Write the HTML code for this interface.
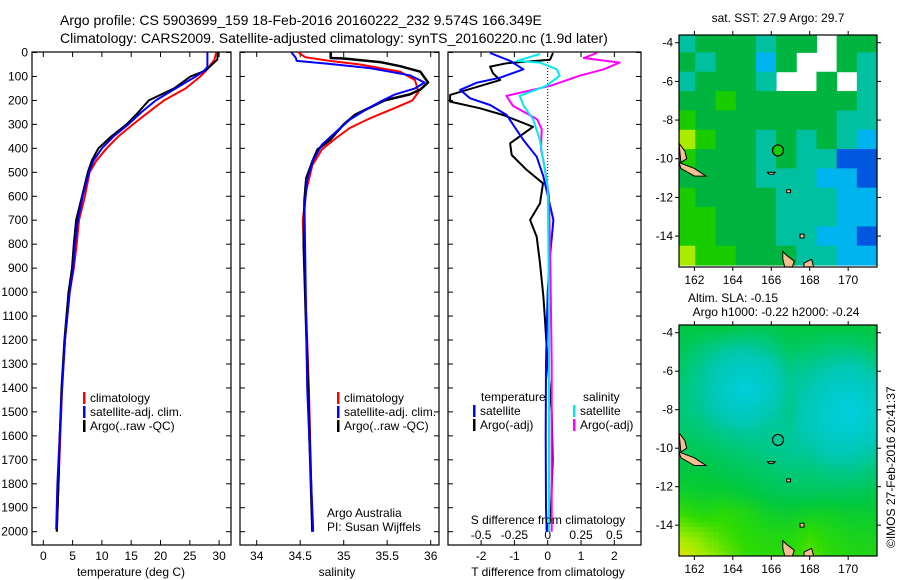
<!DOCTYPE html>
<html><head><meta charset="utf-8"><style>
body{margin:0;background:#fff;}
svg{display:block;font-family:"Liberation Sans",sans-serif;}
</style></head><body>
<svg id="fig" width="900" height="580" viewBox="0 0 900 580" xmlns="http://www.w3.org/2000/svg">
<text x="60" y="25" font-size="14">Argo profile: CS 5903699_159 18-Feb-2016 20160222_232 9.574S 166.349E</text>
<text x="60" y="43" font-size="14">Climatology: CARS2009. Satellite-adjusted climatology: synTS_20160220.nc (1.9d later)</text>
<g id="g1"></g>
<g id="g2"></g>
<g id="g3"></g>
<g id="m1"></g>
<g id="m2"></g>
<text x="778" y="22" font-size="12" text-anchor="middle">sat. SST: 27.9 Argo: 29.7</text>
<text x="733" y="302" font-size="12" text-anchor="middle">Altim. SLA: -0.15</text>
<text x="776" y="316" font-size="12" text-anchor="middle">Argo h1000: -0.22 h2000: -0.24</text>
<text transform="translate(895,548) rotate(-90)" font-size="12">©IMOS 27-Feb-2016 20:41:37</text>
</svg>
<script>
// ---------- data ----------
const depthsT = [0,30,75,100,150,200,250,300,350,400,450,500,600,700,800,900,1000,1200,1400,1600,1800,2000];
const tempArgo = [29.8,29.7,27.7,25.1,22.3,18.0,16.2,14.2,11.6,9.4,8.3,7.6,6.6,5.6,5.2,4.9,4.3,3.6,3.1,2.8,2.6,2.3];
const tempClim = [29.5,29.2,27.8,26.8,24.3,20.6,17.9,15.3,12.8,10.8,9.1,7.9,7.1,6.1,5.7,5.2,4.5,3.7,3.2,2.9,2.6,2.3];
const depthsTsat = [0,60,75,100,150,200,250,300,350,400,450,500,600,700,800,900,1000,1200,1400,1600,1800,1990];
const tempSat = [28.0,28.0,27.5,26.0,22.6,19.2,16.7,14.5,12.0,10.0,8.6,7.8,6.7,5.9,5.4,5.1,4.5,3.7,3.2,2.8,2.4,2.2];

const depthsSA = [0,23,25,40,57,80,125,155,175,200,230,260,300,365,405,455,525,615,800,1400,2000];
const salArgo = [34.85,34.85,35.0,35.42,35.65,35.88,35.97,35.88,35.76,35.47,35.3,35.13,35.0,34.84,34.7,34.64,34.57,34.55,34.54,34.59,34.64];
const depthsSC = [0,20,35,50,80,115,165,200,230,275,315,360,405,470,575,700,1400,2000];
const salClim = [34.48,34.56,34.84,35.19,35.65,35.82,35.86,35.79,35.6,35.3,35.07,34.9,34.75,34.64,34.57,34.53,34.6,34.64];
const depthsSS = [0,23,35,48,65,95,125,150,175,205,240,280,335,385,450,530,650,1400,2000];
const salSat = [34.4,34.45,34.46,34.85,35.3,35.76,35.93,35.82,35.59,35.42,35.25,35.07,34.9,34.75,34.65,34.58,34.55,34.58,34.65];

const depthsDT = [2,30,45,59,87,115,156,177,205,233,261,310,379,428,490,546,630,699,769,880,1019,1116,1300,1500,1700,1900,2000];
const dTargo = [0.16,0.07,-1.24,-1.73,-1.64,-1.43,-2.43,-2.93,-2.93,-2.03,-1.34,-0.44,-1.13,-1.08,-0.63,-0.14,-0.23,-0.53,-0.33,-0.23,-0.13,-0.08,0.0,0.12,0.15,0.1,0.0];
const depthsDTs = [2,35,70,105,126,156,191,219,261,324,365,435,518,699,850,1000,1300,1600,1900,2000];
const dTsat = [-1.73,-1.13,-0.73,-1.43,-2.13,-2.63,-2.33,-1.73,-1.23,-0.93,-0.73,-0.33,-0.13,0.17,0.07,0.0,-0.05,-0.06,-0.05,-0.03];
const depthsDS = [6,35,42,70,97,139,181,223,278,362,459,560,800,1200,1600,2000];
const dSsat = [-0.058,-0.23,-0.058,0.068,0.09,-0.01,-0.21,-0.18,-0.11,-0.06,-0.03,0.0,0.005,0.01,0.01,0.01];
const depthsDSa = [2,23,42,70,97,139,181,223,278,320,403,487,600,900,1300,1700,2000];
const dSargo = [0.37,0.27,0.54,0.42,0.24,0.02,-0.31,-0.26,-0.08,-0.045,-0.05,-0.02,0.01,0.02,0.03,0.03,0.03];

const depthTicks = [0,100,200,300,400,500,600,700,800,900,1000,1100,1200,1300,1400,1500,1600,1700,1800,1900,2000];
const tempTicks = [0,5,10,15,20,25,30];
const salTicks = [34,34.5,35,35.5,36];
const salTickLabels = ["34","34.5","35","35.5","36"];
const dTTicks = [-2,-1,0,1,2];
const dSTicks = [-0.5,-0.25,0,0.25,0.5];
const dSTickLabels = ["-0.5","-0.25","0","0.25","0.5"];

// maps: rows lat -4..-15, cols lon 161.5..170.5 (null = no data)
const sstGrid = [
[3,4,4,4,3,4,4,null,4,4],
[4,3,4,4,2,4,null,null,4,3],
[3,4,4,4,3,null,null,4,null,3],
[4,4,5,4,4,4,4,4,4,3],
[5,4,4,4,4,4,4,4,3,3],
[6,5,4,4,3,4,3,4,3,2],
[5,4,4,4,3,4,3,3,1,1],
[4,4,4,4,3,3,3,2,2,1],
[5,4,4,4,4,3,3,3,2,2],
[5,5,4,4,4,3,3,3,2,2],
[5,5,4,4,4,3,3,2,2,1],
[6,5,5,4,4,4,3,3,2,2]];
const slaGrid = [
[.45,.45,.45,.42,.42,.45,.45,.45,.45,.45],
[.42,.35,.3,.28,.32,.4,.38,.35,.35,.4],
[.38,.3,.2,.15,.2,.32,.3,.25,.22,.3],
[.35,.28,.15,.05,.15,.3,.25,.15,.12,.2],
[.35,.3,.2,.15,.22,.32,.2,.1,.05,.15],
[.38,.35,.3,.28,.3,.3,.22,.12,.1,.18],
[.42,.4,.38,.35,.32,.3,.28,.22,.22,.28],
[.45,.45,.42,.4,.38,.35,.35,.32,.32,.35],
[.5,.48,.48,.45,.42,.4,.4,.4,.4,.42],
[.6,.55,.58,.55,.5,.48,.5,.5,.48,.48],
[.72,.68,.62,.58,.55,.55,.6,.55,.52,.52],
[.85,.75,.68,.6,.58,.58,.65,.58,.55,.55]];
const lonTicks = [162,164,166,168,170];
const latTicks = [-4,-6,-8,-10,-12,-14];
const argoLon = 166.35, argoLat = -9.57;

// ---------- helpers ----------
const NS="http://www.w3.org/2000/svg";
function mk(parent,tag,attrs){const e=document.createElementNS(NS,tag);for(const k in attrs)e.setAttribute(k,attrs[k]);parent.appendChild(e);return e;}
const yD = d => 52.5 + 0.2396*d;
const xT = t => 43.3 + t*5.86;
const xS = s => 256.7 + (s-34)*87;
const xDT = t => 547.7 + t*33.3;
const xDS = s => 547.7 + s*133.3;
const TOP=52, BOT=545;

function path(g,xs,ds,fx,color,name,w){
  let d="";
  for(let i=0;i<xs.length;i++){d+=(i?"L":"M")+fx(xs[i]).toFixed(1)+" "+yD(ds[i]).toFixed(1);}
  const p=mk(g,"path",{d:d,fill:"none",stroke:color,"stroke-width":w||2,"stroke-linejoin":"round"});
  
  
}
function frame(g,x0,x1,name){
  const r=mk(g,"rect",{x:x0,y:TOP,width:x1-x0,height:BOT-TOP,fill:"none",stroke:"#000","stroke-width":1.2});
  
  
  depthTicks.forEach(d=>{mk(g,"line",{x1:x0,x2:x0+5,y1:yD(d),y2:yD(d),stroke:"#000"});mk(g,"line",{x1:x1,x2:x1-5,y1:yD(d),y2:yD(d),stroke:"#000"});});
}
function txt(g,x,y,s,name,anchor,size){
  const t=mk(g,"text",{x:x,y:y,"font-size":size||12,"text-anchor":anchor||"start"});
  t.textContent=s;
  
  
  return t;
}
function legend(g,x,y,color,label,name){
  mk(g,"rect",{x:x,y:y-10,width:2.5,height:12,fill:color});
  txt(g,x+7,y,label,name);
}

// ---------- panel 1: temperature ----------
const g1=document.getElementById("g1");
frame(g1,32,231,"temperature-axes");
depthTicks.forEach(d=>txt(g1,28,yD(d)+4,String(d),"depth-tick-label","end"));
tempTicks.forEach(t=>{mk(g1,"line",{x1:xT(t),x2:xT(t),y1:BOT,y2:BOT-5,stroke:"#000"});mk(g1,"line",{x1:xT(t),x2:xT(t),y1:TOP,y2:TOP+5,stroke:"#000"});txt(g1,xT(t),560,String(t),"temperature-tick-label","middle");});
txt(g1,131,576,"temperature (deg C)","temperature-axis-title","middle");
path(g1,tempClim,depthsT,xT,"#ff0000","temperature-climatology-line");
path(g1,tempArgo,depthsT,xT,"#000000","temperature-argo-line");
path(g1,tempSat,depthsTsat,xT,"#0000ff","temperature-satellite-line");
legend(g1,83,402,"#ff0000","climatology","legend-climatology");
legend(g1,83,416,"#0000ff","satellite-adj. clim.","legend-satellite");
legend(g1,83,430,"#000000","Argo(..raw -QC)","legend-argo");

// ---------- panel 2: salinity ----------
const g2=document.getElementById("g2");
frame(g2,240,439,"salinity-axes");
salTicks.forEach((s,i)=>{mk(g2,"line",{x1:xS(s),x2:xS(s),y1:BOT,y2:BOT-5,stroke:"#000"});mk(g2,"line",{x1:xS(s),x2:xS(s),y1:TOP,y2:TOP+5,stroke:"#000"});txt(g2,xS(s),560,salTickLabels[i],"salinity-tick-label","middle");});
txt(g2,337,576,"salinity","salinity-axis-title","middle");
path(g2,salClim,depthsSC,xS,"#ff0000","salinity-climatology-line");
path(g2,salArgo,depthsSA,xS,"#000000","salinity-argo-line",2.5);
path(g2,salSat,depthsSS,xS,"#0000ff","salinity-satellite-line");
legend(g2,337,402,"#ff0000","climatology","legend-climatology");
legend(g2,337,416,"#0000ff","satellite-adj. clim.","legend-satellite");
legend(g2,337,430,"#000000","Argo(..raw -QC)","legend-argo");
txt(g2,327,517,"Argo Australia","credit-argo-australia");
txt(g2,327,531,"PI: Susan Wijffels","credit-pi");

// ---------- panel 3: differences ----------
const g3=document.getElementById("g3");
frame(g3,448,641,"difference-axes");
dTTicks.forEach(t=>{mk(g3,"line",{x1:xDT(t),x2:xDT(t),y1:BOT,y2:BOT-5,stroke:"#000"});txt(g3,xDT(t),560,String(t),"t-diff-tick-label","middle");});
dSTicks.forEach((s,i)=>{mk(g3,"line",{x1:xDS(s),x2:xDS(s),y1:TOP,y2:TOP+5,stroke:"#000"});txt(g3,xDS(s),539,dSTickLabels[i],"s-diff-tick-label","middle");});
mk(g3,"line",{x1:547.7,x2:547.7,y1:56,y2:180,stroke:"#000","stroke-dasharray":"1,2"});
path(g3,dTargo,depthsDT,xDT,"#000000","t-diff-argo-line");
path(g3,dTsat,depthsDTs,xDT,"#0000ff","t-diff-satellite-line");
path(g3,dSargo,depthsDSa,xDS,"#ff00ff","s-diff-argo-line");
path(g3,dSsat,depthsDS,xDS,"#00e8f0","s-diff-satellite-line");
txt(g3,481,401,"temperature","legend-temperature-header");
txt(g3,583,401,"salinity","legend-salinity-header");
legend(g3,473,415,"#0000ff","satellite","legend-t-satellite");
legend(g3,473,429,"#000000","Argo(-adj)","legend-t-argo");
legend(g3,573,415,"#00e8f0","satellite","legend-s-satellite");
legend(g3,573,429,"#ff00ff","Argo(-adj)","legend-s-argo");
txt(g3,548,524,"S difference from climatology","s-diff-axis-title","middle");
txt(g3,548,576,"T difference from climatology","t-diff-axis-title","middle");

// ---------- maps ----------
const sstColors=["#001c98","#0058e0","#00b4f0","#00c0a0","#00b440","#18cc00","#a8ec00","#f0d800"];
const slaStops=[[0,[0,208,232]],[0.25,[0,200,176]],[0.45,[0,200,64]],[0.6,[48,220,0]],[0.75,[160,236,0]],[0.9,[240,224,0]]];
function slaColor(v){
  for(let i=0;i<slaStops.length-1;i++){const a=slaStops[i],b=slaStops[i+1];
    if(v<=b[0]||i===slaStops.length-2){const f=Math.max(0,Math.min(1,(v-a[0])/(b[0]-a[0])));
      return "rgb("+a[1].map((c,k)=>Math.round(c+(b[1][k]-c)*f)).join(",")+")";}}
}
function drawMap(g,y0,y1,kind){
  const X0=679,X1=877;
  const lonA=161.2,lonB=171.5,latA=-3.6,latB=-15.6;
  const xL=l=>X0+(l-lonA)/(lonB-lonA)*(X1-X0);
  const yL=l=>y0+(l-latA)/(latB-latA)*(y1-y0);
  const clip="clip"+kind;
  const cp=mk(mk(g,"defs",{}),"clipPath",{id:clip});mk(cp,"rect",{x:X0,y:y0,width:X1-X0,height:y1-y0});
  const cg=mk(g,"g",{"clip-path":"url(#"+clip+")"});
  mk(cg,"rect",{x:X0,y:y0,width:X1-X0,height:y1-y0,fill:"#fff"});
  if(kind==="sst"){
    sstGrid.forEach((row,r)=>row.forEach((v,c)=>{
      if(v===null)return;
      const lon=161+c*1.05, lat=-3.5-r;
      const cell=mk(cg,"rect",{x:xL(lon),y:yL(lat),width:(X1-X0)/9.8+0.5,height:(y1-y0)/12+0.5,fill:sstColors[v]});
      
      
    }));
  } else {
    const nx=40,ny=48;
    for(let j=0;j<ny;j++)for(let i=0;i<nx;i++){
      const fr=j/(ny-1)*(slaGrid.length-1), fc=i/(nx-1)*(slaGrid[0].length-1);
      const r0=Math.floor(fr),c0=Math.floor(fc),r1=Math.min(r0+1,slaGrid.length-1),c1=Math.min(c0+1,slaGrid[0].length-1);
      const a=fr-r0,b=fc-c0;
      const v=slaGrid[r0][c0]*(1-a)*(1-b)+slaGrid[r0][c1]*(1-a)*b+slaGrid[r1][c0]*a*(1-b)+slaGrid[r1][c1]*a*b;
      const cell=mk(cg,"rect",{x:X0+i*(X1-X0)/nx,y:y0+j*(y1-y0)/ny,width:(X1-X0)/nx+0.6,height:(y1-y0)/ny+0.6,fill:slaColor(v)});
      
      
    }
  }
  const lands=[[[161.2,-9.2],[161.5,-9.6],[161.6,-10.0],[161.3,-10.2]],
    [[161.2,-10.2],[162.0,-10.5],[162.6,-10.9],[162.0,-10.9],[161.3,-10.5]],
    [[166.6,-14.8],[166.8,-15.0],[167.2,-15.3],[167.1,-15.6],[166.7,-15.6],[166.6,-15.2]],
    [[167.7,-15.4],[168.1,-15.2],[168.2,-15.6],[167.7,-15.6]],
    [[165.8,-10.7],[166.2,-10.7],[166.1,-10.8],[165.9,-10.8]],
    [[166.8,-11.6],[167.0,-11.6],[167.0,-11.75],[166.8,-11.75]],
    [[167.5,-13.9],[167.7,-13.9],[167.7,-14.1],[167.5,-14.1]]];
  lands.forEach(pts=>{
    const p=mk(cg,"polygon",{points:pts.map(q=>xL(q[0]).toFixed(1)+","+yL(q[1]).toFixed(1)).join(" "),fill:"#f4c090",stroke:"#000","stroke-width":1});
    
    
  });
  const m=mk(cg,"circle",{cx:xL(argoLon),cy:yL(argoLat),r:5.5,fill:kind==="sst"?"#18cc00":"none",stroke:"#000","stroke-width":1.2});
  
  
  const fr=mk(g,"rect",{x:X0,y:y0,width:X1-X0,height:y1-y0,fill:"none",stroke:"#000","stroke-width":1.2});
  
  
  lonTicks.forEach(l=>{mk(g,"line",{x1:xL(l),x2:xL(l),y1:y0,y2:y0-4,stroke:"#000"});mk(g,"line",{x1:xL(l),x2:xL(l),y1:y1,y2:y1+4,stroke:"#000"});txt(g,xL(l),y1+17,String(l),"lon-tick-label","middle");});
  latTicks.forEach(l=>{mk(g,"line",{x1:X0,x2:X0-4,y1:yL(l),y2:yL(l),stroke:"#000"});mk(g,"line",{x1:X1,x2:X1+4,y1:yL(l),y2:yL(l),stroke:"#000"});txt(g,673,yL(l)+4,String(l),"lat-tick-label","end");});
}
drawMap(document.getElementById("m1"),35,267,"sst");
drawMap(document.getElementById("m2"),325,556,"sla");
</script>
</body></html>
